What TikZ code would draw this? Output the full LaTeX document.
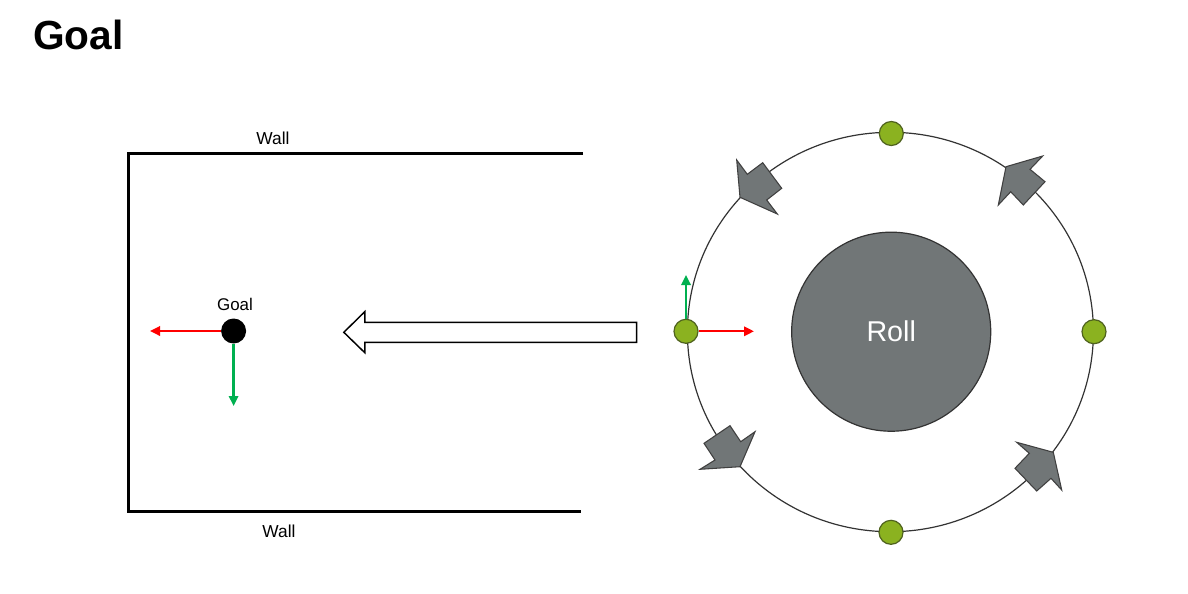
\documentclass[tikz,border=0pt]{standalone}
\usepackage{fontspec}
\setmainfont{Liberation Sans}
\usetikzlibrary{arrows.meta}
\definecolor{rollgray}{RGB}{113,118,119}
\definecolor{dotgreen}{RGB}{139,178,32}
\definecolor{dotedge}{RGB}{79,98,30}
\definecolor{axisgreen}{RGB}{0,176,80}
\begin{document}
\begin{tikzpicture}[x=0.75pt,y=-0.75pt,line cap=round,line join=round,>={Triangle[length=7.5pt,width=7pt]},
	dot/.style={circle,draw=dotedge,fill=dotgreen,line width=0.9pt,minimum size=18pt,inner sep=0pt},
	pad/.style={fill=rollgray,draw=black!75,line width=0.8pt,line join=miter},
	axis/.style={->,line width=1.7pt,line cap=butt},
	lbl/.style={anchor=base,inner sep=0pt,font=\fontsize{13}{15}\selectfont}]
	\useasboundingbox (0,0) rectangle (1188,593);
	\node[anchor=base west,inner sep=0pt,font=\fontsize{30.5}{36}\selectfont\bfseries] (title) at (33,49.5) {Goal};
	\draw[line width=1.9pt,line cap=butt,line join=miter] (583,153.3) -| (128.3,511.7) -- (581,511.7);
	\node[lbl] (walltop) at (273,144) {Wall};
	\node[lbl] (wallbot) at (279,537.3) {Wall};
	\node[circle,fill=black,minimum size=18.75pt,inner sep=0pt] (goal) at (233.6,331) {};
	\node[lbl,font=\fontsize{12.7}{15}\selectfont] (goaltext) at (235,310.7) {Goal};
	\coordinate (gx) at (150,331);
	\coordinate (gy) at (233.6,406);
	\draw[axis,red] (goal) -- (gx);
	\draw[axis,axisgreen] (goal) -- (gy);
	\draw[line width=1.1pt,line join=miter,fill=white] (636.6,322.3) -- (364.8,322.3) -- (364.8,311.7) -- (343.8,332.3)
		-- (364.8,352.7) -- (364.8,342.3) -- (636.6,342.3) -- cycle;
	\draw[line width=0.9pt,black!80] (890.4,332) ellipse [x radius=203,y radius=199.7];
	\draw[pad] (736.7,160) -- (747.3,174.3) -- (762.7,162.7) -- (781.7,188.3) -- (766.7,200) -- (777.3,214) -- (740,197.3) -- cycle;
	\draw[pad] (1006,166.7) -- (1042.7,156) -- (1030,169.3) -- (1045,181.7) -- (1023.3,205) -- (1010.7,191.7) -- (998.3,205) -- cycle;
	\draw[pad] (704,443.3) -- (730,425.7) -- (740.7,441.7) -- (755,431.7) -- (740,466.7) -- (700,469.3) -- (715,460) -- cycle;
	\draw[pad] (1016.7,442.3) -- (1053.3,452.3) -- (1061.7,490) -- (1051,478.3) -- (1036.7,491) -- (1015,468.3) -- (1029.3,453.3) -- cycle;
	\node[circle,fill=rollgray,draw=black!80,line width=0.9pt,minimum size=149.3pt,inner sep=0pt,text=white,
		font=\fontsize{21.5}{25}\selectfont] (roll) at (891.2,331.7) {Roll};
	\node[dot] (top) at (891.3,133.5) {};
	\node[dot] (right) at (1094,331.7) {};
	\node[dot] (bottom) at (891,532.3) {};
	\node[dot] (left) at (686,331.3) {};
	\coordinate (lx) at (754,331.3);
	\coordinate (ly) at (686,275);
	\draw[axis,red] (left) -- (lx);
	\draw[axis,axisgreen] (left) -- (ly);
\end{tikzpicture}
\end{document}
